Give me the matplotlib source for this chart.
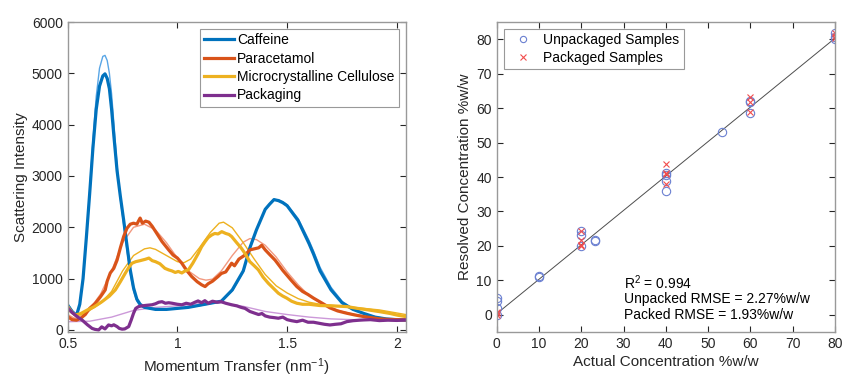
import numpy as np
import matplotlib
matplotlib.use("Agg")
import matplotlib.pyplot as plt

plt.rcParams['font.family'] = ['Liberation Sans', 'DejaVu Sans']
plt.rcParams['mathtext.default'] = 'regular'

# --- scattering profiles (momentum transfer in nm^-1) ---
caf_q = [0.50, 0.52, 0.54, 0.555, 0.57, 0.585, 0.60, 0.615, 0.63, 0.645, 0.66, 0.67, 0.68,
         0.69, 0.70, 0.71, 0.725, 0.74, 0.755, 0.77, 0.785, 0.80, 0.815, 0.83, 0.85, 0.90,
         0.95, 1.00, 1.05, 1.10, 1.15, 1.20, 1.25, 1.30, 1.33, 1.36, 1.38, 1.40, 1.42, 1.44,
         1.46, 1.48, 1.50, 1.55, 1.60, 1.62, 1.65, 1.70, 1.75, 1.80, 1.85, 1.90, 1.95, 2.00, 2.04]
caf_meas = [480, 360, 280, 500, 1000, 1800, 2650, 3550, 4300, 4750, 4950, 4990, 4900,
            4700, 4300, 3800, 3100, 2600, 2140, 1650, 1170, 820, 600, 500, 440, 400,
            400, 420, 440, 480, 520, 560, 780, 1150, 1600, 1950, 2150, 2350, 2450, 2540,
            2520, 2480, 2420, 2130, 1680, 1480, 1150, 780, 530, 400, 320, 250, 215, 200, 190]
caf_fit = [520, 380, 290, 480, 1000, 1800, 2700, 3700, 4550, 5100, 5330, 5350, 5250,
           5000, 4600, 4050, 3200, 2550, 2050, 1550, 1100, 760, 560, 470, 430, 400,
           400, 420, 440, 470, 510, 570, 760, 1130, 1580, 1940, 2150, 2340, 2460, 2530,
           2540, 2500, 2440, 2170, 1740, 1540, 1220, 830, 560, 410, 320, 260, 220, 200, 190]

par_q = [0.50, 0.52, 0.54, 0.56, 0.58, 0.60, 0.626, 0.65, 0.671, 0.68, 0.694, 0.71, 0.725,
         0.74, 0.755, 0.77, 0.785, 0.80, 0.815, 0.83, 0.84, 0.855, 0.87, 0.885, 0.90, 0.915,
         0.93, 0.945, 0.96, 0.98, 1.00, 1.02, 1.04, 1.065, 1.09, 1.11, 1.126, 1.14, 1.16,
         1.185, 1.20, 1.22, 1.247, 1.26, 1.28, 1.308, 1.33, 1.35, 1.37, 1.384, 1.40, 1.42,
         1.445, 1.468, 1.48, 1.504, 1.52, 1.544, 1.57, 1.595, 1.62, 1.66, 1.695, 1.73, 1.772,
         1.81, 1.85, 1.89, 1.92, 1.96, 2.00, 2.04]
par_meas = [260, 200, 190, 230, 300, 420, 520, 650, 780, 950, 1110, 1200, 1360,
            1600, 1820, 1980, 2060, 2080, 2060, 2180, 2080, 2120, 2100, 2020, 1920, 1820,
            1720, 1640, 1560, 1460, 1400, 1300, 1170, 1040, 940, 880, 845, 900, 950,
            1040, 1100, 1130, 1300, 1250, 1380, 1460, 1560, 1580, 1600, 1650, 1560, 1470,
            1360, 1230, 1160, 1040, 960, 845, 750, 690, 620, 520, 430, 370, 325,
            290, 260, 235, 215, 205, 200, 195]
par_fit_q = [0.50, 0.53, 0.56, 0.60, 0.65, 0.70, 0.75, 0.80, 0.85, 0.90, 0.95, 1.00, 1.05,
             1.10, 1.13, 1.16, 1.20, 1.25, 1.30, 1.33, 1.36, 1.40, 1.45, 1.50, 1.55, 1.60,
             1.65, 1.70, 1.75, 1.80, 1.85, 1.90, 1.95, 2.00, 2.04]
par_fit = [300, 230, 240, 400, 700, 1150, 1700, 2000, 2060, 1950, 1700, 1400, 1150,
           1000, 970, 990, 1150, 1450, 1710, 1780, 1760, 1650, 1420, 1130, 880, 670,
           530, 430, 360, 310, 270, 240, 220, 205, 200]

mcc_q = [0.50, 0.52, 0.535, 0.56, 0.59, 0.62, 0.656, 0.69, 0.717, 0.74, 0.763, 0.78, 0.793,
         0.81, 0.83, 0.854, 0.87, 0.885, 0.90, 0.92, 0.943, 0.96, 0.975, 0.99, 1.004, 1.02,
         1.035, 1.05, 1.07, 1.095, 1.11, 1.126, 1.14, 1.156, 1.17, 1.185, 1.202, 1.22, 1.235,
         1.247, 1.27, 1.29, 1.308, 1.33, 1.35, 1.369, 1.39, 1.414, 1.44, 1.46, 1.48, 1.498,
         1.52, 1.544, 1.57, 1.60, 1.62, 1.65, 1.70, 1.772, 1.82, 1.87, 1.92, 1.97, 2.00, 2.04]
mcc_meas = [455, 340, 290, 320, 390, 450, 550, 660, 780, 940, 1110, 1230, 1300,
            1330, 1350, 1377, 1400, 1350, 1330, 1290, 1200, 1170, 1150, 1120, 1140, 1110,
            1150, 1170, 1300, 1490, 1620, 1720, 1800, 1850, 1880, 1870, 1915, 1880, 1860,
            1820, 1700, 1600, 1490, 1330, 1250, 1170, 1030, 910, 800, 715, 660, 620,
            560, 520, 500, 500, 490, 475, 470, 455, 420, 390, 357, 320, 290, 260]
mcc_fit_q = [0.50, 0.53, 0.56, 0.60, 0.65, 0.70, 0.75, 0.80, 0.85, 0.875, 0.90, 0.95, 1.00,
             1.03, 1.06, 1.10, 1.15, 1.19, 1.21, 1.25, 1.30, 1.35, 1.40, 1.45, 1.50, 1.55,
             1.60, 1.65, 1.70, 1.77, 1.85, 1.92, 2.00, 2.04]
mcc_fit = [380, 300, 290, 380, 520, 750, 1150, 1450, 1580, 1600, 1570, 1450, 1330,
           1310, 1380, 1600, 1900, 2080, 2100, 1990, 1700, 1380, 1080, 860, 720, 610,
           540, 500, 480, 455, 420, 390, 330, 300]

pkg_q = [0.50, 0.52, 0.54, 0.565, 0.59, 0.611, 0.625, 0.641, 0.655, 0.67, 0.686, 0.70, 0.71,
         0.725, 0.735, 0.748, 0.76, 0.778, 0.79, 0.80, 0.81, 0.823, 0.84, 0.86, 0.884, 0.90,
         0.915, 0.93, 0.945, 0.96, 0.976, 1.00, 1.02, 1.04, 1.06, 1.08, 1.094, 1.11, 1.125,
         1.14, 1.16, 1.18, 1.20, 1.22, 1.247, 1.27, 1.29, 1.308, 1.33, 1.353, 1.37, 1.385,
         1.40, 1.42, 1.44, 1.46, 1.48, 1.50, 1.52, 1.544, 1.57, 1.595, 1.62, 1.645, 1.67,
         1.695, 1.72, 1.745, 1.772, 1.80, 1.83, 1.85, 1.88, 1.92, 1.96, 2.00, 2.04]
pkg_meas = [430, 340, 270, 195, 100, 30, 10, 0, 60, 20, 97, 80, 100,
            65, 30, 15, 20, 65, 200, 325, 420, 455, 470, 480, 490, 510,
            540, 550, 520, 530, 520, 500, 490, 520, 500, 540, 565, 530, 570,
            520, 560, 540, 550, 520, 490, 470, 440, 420, 360, 325, 300, 320,
            273, 250, 240, 228, 250, 200, 180, 162, 190, 150, 150, 130, 110,
            97, 110, 120, 162, 180, 190, 195, 200, 182, 190, 185, 195]
pkg_fit_q = [0.50, 0.60, 0.70, 0.80, 0.90, 1.00, 1.10, 1.20, 1.30, 1.40, 1.50, 1.60, 1.70,
             1.80, 1.90, 2.04]
pkg_fit = [160, 170, 250, 380, 440, 470, 510, 530, 460, 360, 300, 250, 215, 200, 195, 185]

# --- resolved vs actual concentration ---
unpacked_actual = [0, 0, 0, 0, 10, 10, 20, 20, 20, 23.3, 23.3, 40, 40, 40, 40,
                   53.3, 60, 60, 60, 80, 80, 80]
unpacked_resolved = [5.0, 3.9, 1.9, 0.0, 11.3, 10.9, 24.2, 23.2, 20.0, 21.3, 21.7,
                     41.1, 40.6, 38.9, 36.0, 53.0, 62.1, 61.7, 58.7, 81.7, 80.7, 80.0]
packed_actual = [0, 0, 0, 20, 20, 20, 20, 40, 40, 40, 40, 60, 60, 60, 80, 80, 80]
packed_resolved = [0.5, 0.0, 0.8, 24.4, 21.6, 20.3, 20.0, 43.7, 41.1, 40.9, 37.9,
                   63.2, 61.7, 59.0, 81.7, 81.0, 80.3]
fit_x = [0, 80]
fit_y = [0.3, 80.3]

r2 = 0.994
rmse_unpacked = 2.27
rmse_packed = 1.93

blue = (0.0, 0.447, 0.741)
orange = (0.85, 0.325, 0.098)
yellow = (0.929, 0.694, 0.125)
purple = (0.494, 0.184, 0.556)
axcol = (0.15, 0.15, 0.15)


def style_axes(ax):
    for s in ax.spines.values():
        s.set_color((0.6, 0.6, 0.6))
        s.set_linewidth(1.0)
    ax.tick_params(direction='in', length=4, width=0.8, color=axcol,
                   labelcolor=axcol, labelsize=10, top=True, right=True)


fig = plt.figure(figsize=(8.42, 3.77), dpi=100)
ax1 = fig.add_axes([0.0804, 0.1194, 0.4014, 0.8222])
ax2 = fig.add_axes([0.5899, 0.1194, 0.4018, 0.8222])

# thin lines: fitted profiles, thick lines: measured
ax1.plot(caf_q, caf_fit, color=(0.35, 0.65, 0.9), lw=1.0)
ax1.plot(par_fit_q, par_fit, color=(0.95, 0.6, 0.5), lw=1.0)
ax1.plot(mcc_fit_q, mcc_fit, color=yellow, lw=1.0)
ax1.plot(pkg_fit_q, pkg_fit, color=(0.8, 0.6, 0.85), lw=1.0)
l1, = ax1.plot(caf_q, caf_meas, color=blue, lw=2.3, label='Caffeine')
l2, = ax1.plot(par_q, par_meas, color=orange, lw=2.3, label='Paracetamol')
l3, = ax1.plot(mcc_q, mcc_meas, color=yellow, lw=2.3, label='Microcrystalline Cellulose')
l4, = ax1.plot(pkg_q, pkg_meas, color=purple, lw=2.3, label='Packaging')

ax1.set_xlim(0.5, 2.04)
ax1.set_ylim(-40, 6000)
ax1.set_xticks([0.5, 1, 1.5, 2])
ax1.set_xticklabels(['0.5', '1', '1.5', '2'])
ax1.set_yticks(np.arange(0, 6001, 1000))
ax1.set_xlabel('Momentum Transfer (nm$^{-1}$)', fontsize=11, color=axcol, labelpad=4)
ax1.set_ylabel('Scattering Intensity', fontsize=11, color=axcol, labelpad=3)
style_axes(ax1)
leg1 = ax1.legend(handles=[l1, l2, l3, l4], loc='upper right', fontsize=10,
                  fancybox=False, framealpha=1, edgecolor=(0.6, 0.6, 0.6),
                  handlelength=2.2, handletextpad=0.2, borderpad=0.3,
                  labelspacing=0.32, borderaxespad=0.5)
leg1.get_frame().set_linewidth(0.8)

ax2.plot(fit_x, fit_y, color=(0.3, 0.3, 0.3), lw=0.7)
ax2.plot(unpacked_actual, unpacked_resolved, 'o', mfc='none', mec=(0.42, 0.5, 0.82),
         ms=6, mew=0.8, label='Unpackaged Samples')
ax2.plot(packed_actual, packed_resolved, 'x', color=(0.95, 0.3, 0.3),
         ms=5, mew=0.8, label='Packaged Samples')
ax2.set_xlim(0, 80)
ax2.set_ylim(-5, 85)
ax2.set_xticks(np.arange(0, 81, 10))
ax2.set_yticks(np.arange(0, 81, 10))
ax2.set_xlabel('Actual Concentration %w/w', fontsize=11, color=axcol, labelpad=3)
ax2.set_ylabel('Resolved Concentration %w/w', fontsize=11, color=axcol, labelpad=3)
style_axes(ax2)
leg2 = ax2.legend(loc='upper left', fontsize=10, fancybox=False, framealpha=1,
                  edgecolor=(0.6, 0.6, 0.6), handlelength=2.2, handletextpad=0.35,
                  borderpad=0.3, labelspacing=0.3, borderaxespad=0.5, markerscale=0.75)
leg2.get_frame().set_linewidth(0.8)

ax2.text(30.1, 9.2, 'R$^2$ = %.3f' % r2, fontsize=10, color='black', va='center')
ax2.text(30.1, 4.6, 'Unpacked RMSE = %.2f%%w/w' % rmse_unpacked, fontsize=10,
         color='black', va='center')
ax2.text(30.1, 0.0, 'Packed RMSE = %.2f%%w/w' % rmse_packed, fontsize=10,
         color='black', va='center')

fig.savefig('out.png', dpi=100)
